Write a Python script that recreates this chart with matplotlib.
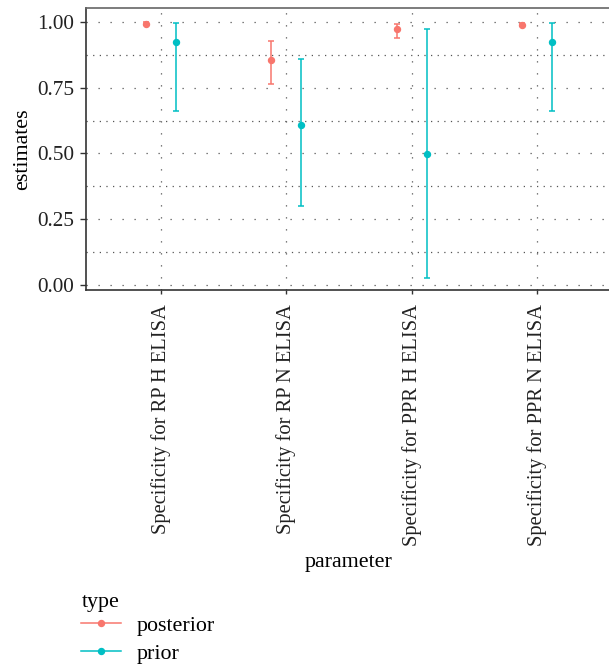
import numpy as np
import matplotlib
matplotlib.use("Agg")
import matplotlib.pyplot as plt
from matplotlib.lines import Line2D
from matplotlib.ticker import MultipleLocator

plt.rcParams['font.family'] = ['Liberation Serif', 'DejaVu Serif']

# data
parameters = ["Specificity for RP H ELISA", "Specificity for RP N ELISA",
              "Specificity for PPR H ELISA", "Specificity for PPR N ELISA"]
post_est = [0.994, 0.854, 0.972, 0.990]
post_lo = [0.990, 0.765, 0.939, 0.983]
post_hi = [0.998, 0.926, 0.992, 0.997]
prior_est = [0.923, 0.607, 0.497, 0.923]
prior_lo = [0.663, 0.302, 0.028, 0.663]
prior_hi = [0.996, 0.860, 0.972, 0.996]

c_post = '#F8766D'
c_prior = '#00BFC4'
fs = 15.3

fig = plt.figure(figsize=(6.09, 6.65), dpi=100)
ax = fig.add_axes([86/609, 1-290/665, 526/609, 282/665])

x = np.arange(len(parameters))
off = 0.12
for est, lo, hi, col, dx in [(post_est, post_lo, post_hi, c_post, -off),
                             (prior_est, prior_lo, prior_hi, c_prior, off)]:
    est = np.array(est); lo = np.array(lo); hi = np.array(hi)
    ax.errorbar(x + dx, est, yerr=[est - lo, hi - est], fmt='o', color=col,
                ms=4.3, elinewidth=1.1, capsize=2.2, capthick=1.1, zorder=3)

ax.set_xlim(-0.6, len(parameters) - 1 + 0.6)
ax.set_ylim(-0.019, 1.053)
ax.set_xticks(x)
ax.set_xticklabels(parameters, rotation=90, fontsize=14.8, color='#222222')
ax.yaxis.set_major_locator(MultipleLocator(0.25))
ax.yaxis.set_minor_locator(MultipleLocator(0.125))
ax.set_yticks([0, 0.25, 0.5, 0.75, 1.0])
ax.set_yticklabels(['0.00', '0.25', '0.50', '0.75', '1.00'], fontsize=fs, color='#222222')
ax.tick_params(axis='y', which='major', length=4.3, width=1, color='#333333', pad=4)
ax.tick_params(axis='x', which='major', length=3, width=1, color='#333333', pad=7)
ax.tick_params(axis='y', which='minor', length=0)

ax.grid(True, which='major', axis='both', color='#555555', linewidth=0.9,
        linestyle=(0, (1, 8.6)))
ax.grid(True, which='minor', axis='y', color='#555555', linewidth=0.9,
        linestyle=(0, (1, 4.3)))
ax.set_axisbelow(True)

for s in ['left', 'bottom']:
    ax.spines[s].set_color('#333333')
    ax.spines[s].set_linewidth(1.2)
ax.spines['top'].set_color('#666666')
ax.spines['top'].set_linewidth(1.2)
ax.spines['right'].set_visible(False)

ax.set_ylabel('estimates', fontsize=fs + 0.5, labelpad=4)
ax.set_xlabel('parameter', fontsize=fs + 0.5, labelpad=5)

# legend: title drawn separately to match its tighter spacing
fig.text(82/609, 1 - 602/665, 'type', fontsize=fs + 0.5, ha='left', va='center')
handles = [Line2D([], [], color=c_post, marker='o', ms=4.3, lw=1.1),
           Line2D([], [], color=c_prior, marker='o', ms=4.3, lw=1.1)]
leg = fig.legend(handles, ['posterior', 'prior'], loc='upper left',
                 bbox_to_anchor=(77/609, 1 - 611/665), frameon=False,
                 fontsize=fs + 0.5, handlelength=1.8, handletextpad=0.7,
                 labelspacing=0.35, borderaxespad=0, borderpad=0.2)

fig.savefig('out.png', dpi=100)
